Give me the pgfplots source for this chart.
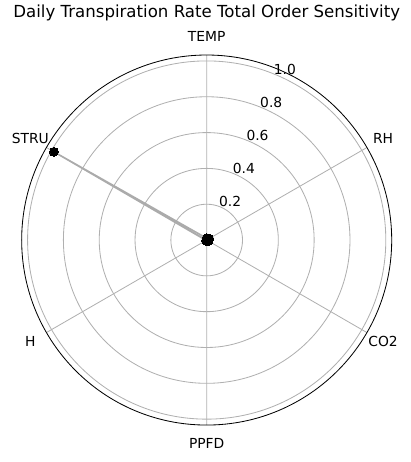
\documentclass[border=0pt]{standalone}
\usepackage{pgfplots}
\pgfplotsset{compat=1.18}
\usepgfplotslibrary{polar}
\usepackage{fontspec}
\setmainfont{DejaVu Sans}
\begin{document}
\fontsize{10}{12}\selectfont
\begin{tikzpicture}
\begin{polaraxis}[
  at={(0,0)}, anchor=center,
  scale only axis, width=266.4bp, height=266.4bp,
  xmin=0, xmax=360, ymin=0, ymax=1.033,
  xtick={30,90,150,210,270,330},
  ytick={0.2,0.4,0.6,0.8,1.0},
  xticklabels={}, yticklabels={},
  major tick length=0pt,
  grid=major,
  major grid style={color=black!31, line width=0.6pt},
  x axis line style={black, line width=0.6pt},
  y axis line style={draw=none},
  clip=false,
]
\addplot[color=black!33, line width=1.1pt, mark=*, mark size=3.2bp, mark options={fill=black, draw=black, line width=0pt}]
  coordinates {(90,0.010) (30,0.016) (330,0.012) (270,0.005) (210,0.004) (150,0.985) (90,0.010)};
\foreach \a/\t in {90/TEMP,30/RH,330/CO2,270/PPFD,210/H,150/STRU}{
  \edef\tmp{\noexpand\node[anchor=center] at (axis cs:\a,1.137) {\t};}\tmp
}
\foreach \v in {0.2,0.4,0.6,0.8,1.0}{
  \edef\tmp{\noexpand\node[anchor=center, xshift=7bp, yshift=3.8bp] at (axis cs:67.5,\v) {\v};}\tmp
}
\end{polaraxis}
\node[anchor=center] at (0,163.4bp) {\fontsize{12}{14}\selectfont Daily Transpiration Rate Total Order Sensitivity};
\pgfresetboundingbox
\path[use as bounding box] (-148.8bp,-159.8bp) rectangle (146.4bp,172.8bp);
\end{tikzpicture}
\end{document}
